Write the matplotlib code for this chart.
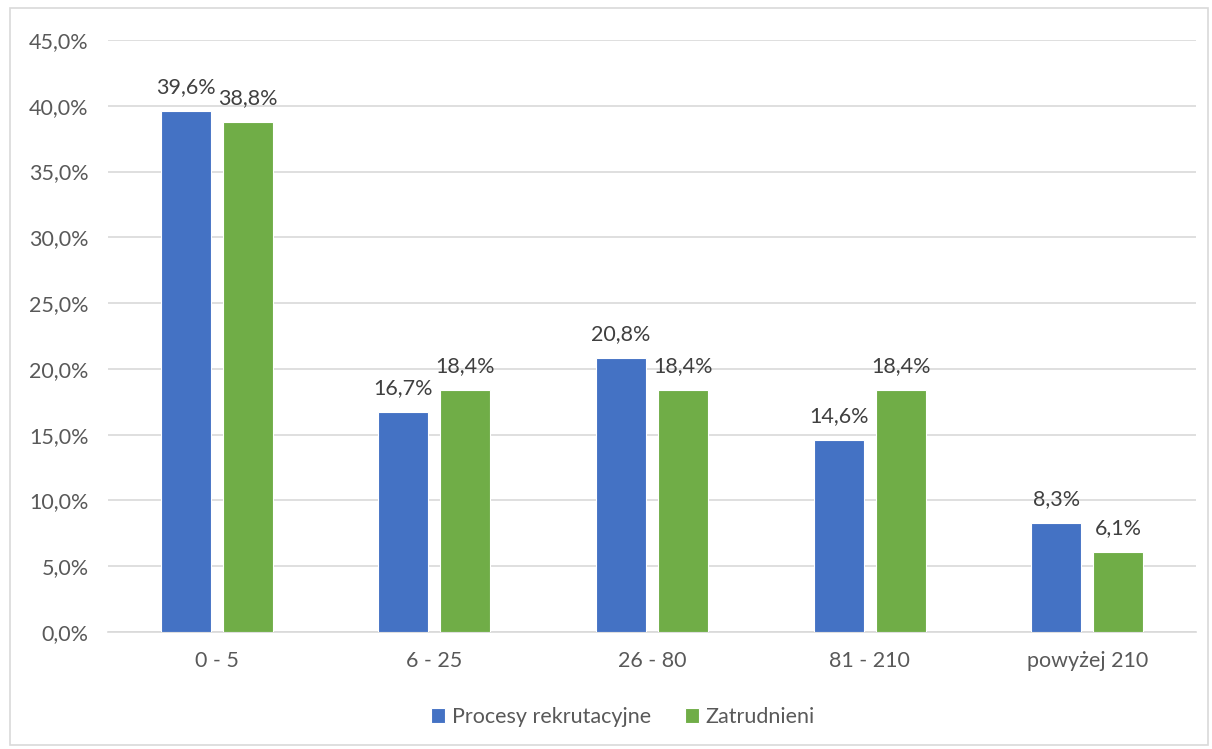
import matplotlib
matplotlib.use("Agg")
import matplotlib.pyplot as plt
from matplotlib.patches import Rectangle
from matplotlib.ticker import FuncFormatter, MultipleLocator
import numpy as np

categories = ["0 - 5", "6 - 25", "26 - 80", "81 - 210", "powyżej 210"]
procesy = [39.6, 16.7, 20.8, 14.6, 8.3]
zatrudnieni = [38.8, 18.4, 18.4, 18.4, 6.1]
series_names = ["Procesy rekrutacyjne", "Zatrudnieni"]

plt.rcParams['font.family'] = ['Lato', 'DejaVu Sans']

W, H = 1212, 749
fig = plt.figure(figsize=(W / 100, H / 100), dpi=100)
ax = fig.add_axes([108 / W, 1 - 632 / H, (1196 - 108) / W, (632 - 40) / H])

x = np.arange(len(categories))
bw = 0.23
off = 0.1425
blue = "#4472C4"
green = "#70AD47"
fs = 15.5

b1 = ax.bar(x - off, procesy, bw, color=blue, edgecolor="white", linewidth=0.8,
            zorder=3, label=series_names[0])
b2 = ax.bar(x + off, zatrudnieni, bw, color=green, edgecolor="white", linewidth=0.8,
            zorder=3, label=series_names[1])

fmt = lambda v: f"{v:.1f}%".replace(".", ",")
for bars, vals in ((b1, procesy), (b2, zatrudnieni)):
    for r, v in zip(bars, vals):
        ax.annotate(fmt(v), (r.get_x() + r.get_width() / 2, v),
                    xytext=(0, 10), textcoords="offset points",
                    ha="center", va="bottom", fontsize=fs, color="#404040")

ax.set_xlim(-0.5, len(categories) - 0.5)
ax.set_ylim(0, 45)
ax.yaxis.set_major_locator(MultipleLocator(5))
ax.yaxis.set_major_formatter(FuncFormatter(lambda v, p: fmt(v)))
ax.set_xticks(x)
ax.set_xticklabels(categories)
ax.tick_params(axis="both", length=0, labelsize=fs, labelcolor="#595959")
ax.tick_params(axis="y", pad=14)
ax.tick_params(axis="x", pad=14)
ax.grid(axis="y", color="#D9D9D9", linewidth=1.2, zorder=0)
for s in ("top", "right", "left"):
    ax.spines[s].set_visible(False)
ax.spines["bottom"].set_color("#D9D9D9")
ax.spines["bottom"].set_linewidth(1.2)

leg = fig.legend(handles=[b1, b2], labels=series_names, loc="center",
                 bbox_to_anchor=(623 / W, 1 - 717 / H), ncol=2, frameon=False,
                 fontsize=fs, handlelength=0.65, handleheight=0.65,
                 handletextpad=0.3, columnspacing=1.6)
for t in leg.get_texts():
    t.set_color("#595959")

fig.patches.append(Rectangle((10 / W, 4 / H), 1198 / W, 737 / H, transform=fig.transFigure,
                             fill=False, edgecolor="#D9D9D9", linewidth=1.2))

fig.savefig("out.png", dpi=100)
